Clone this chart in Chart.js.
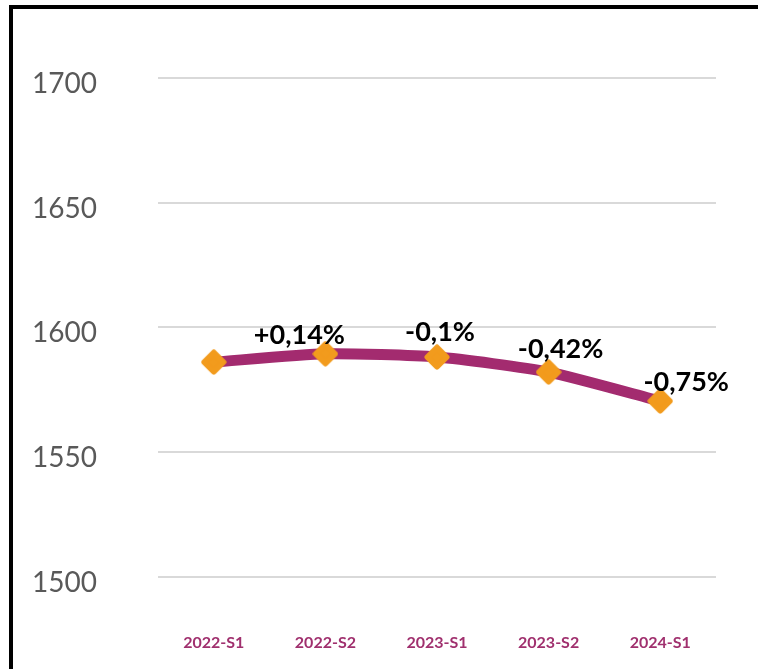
<!DOCTYPE html>
<html>
<head>
<meta charset="utf-8">
<script src="https://cdn.jsdelivr.net/npm/chart.js@4"></script>
<style>
  html, body { margin: 0; padding: 0; background: #fff; overflow: hidden; }
  #wrap { position: relative; width: 758px; height: 669px; }
  #frame {
    position: absolute; left: 9px; top: 5px; width: 800px; height: 700px;
    border-left: 4px solid #000; border-top: 4px solid #000;
  }
  canvas { position: absolute; left: 0; top: 0; }
</style>
</head>
<body>
<div id="wrap">
  <div id="frame"></div>
  <canvas id="chart" width="758" height="669"></canvas>
</div>
<script>
// --- Data ---
const categories = ['2022-S1', '2022-S2', '2023-S1', '2023-S2', '2024-S1'];
const values = [1586.1, 1589.4, 1588.1, 1582.1, 1570.5];
const changeLabels = ['', '+0,14%', '-0,1%', '-0,42%', '-0,75%'];
const yTicks = [1500, 1550, 1600, 1650, 1700];

const LINE_COLOR = '#A32B6F';
const MARKER_COLOR = '#F29B1D';

// rounded diamond marker
const makeMarker = () => {
  const c = document.createElement('canvas');
  c.width = 26; c.height = 26;
  const g = c.getContext('2d');
  g.fillStyle = MARKER_COLOR;
  g.strokeStyle = MARKER_COLOR;
  g.lineWidth = 6;
  g.lineJoin = 'round';
  g.beginPath();
  g.moveTo(13, 3.5); g.lineTo(22.5, 13); g.lineTo(13, 22.5); g.lineTo(3.5, 13);
  g.closePath();
  g.fill(); g.stroke();
  return c;
};

// labels next to points (offsets tuned by eye)
const labelOffsets = [[0, 0], [-26, -19], [3, -25], [12, -23], [26, -19]];
const changeLabelPlugin = {
  id: 'changeLabels',
  afterDatasetsDraw(chart) {
    const ctx = chart.ctx;
    const meta = chart.getDatasetMeta(0);
    ctx.save();
    ctx.font = 'bold 27px Lato, "Open Sans", sans-serif';
    ctx.fillStyle = '#000';
    ctx.textAlign = 'center';
    ctx.textBaseline = 'middle';
    meta.data.forEach((pt, i) => {
      if (!changeLabels[i]) return;
      const [dx, dy] = labelOffsets[i];
      ctx.fillText(changeLabels[i], pt.x + dx, pt.y + dy);
    });
    ctx.restore();
  }
};

new Chart(document.getElementById('chart'), {
  type: 'line',
  data: {
    labels: categories,
    datasets: [{
      data: values,
      borderColor: LINE_COLOR,
      borderWidth: 11,
      borderCapStyle: 'round',
      borderJoinStyle: 'round',
      tension: 0.2,
      pointStyle: makeMarker(),
      pointRadius: 11,
      pointHoverRadius: 11
    }]
  },
  options: {
    responsive: false,
    animation: false,
    events: [],
    layout: { padding: { left: 0, top: 73, right: 42, bottom: 0 } },
    plugins: { legend: { display: false }, tooltip: { enabled: false } },
    scales: {
      x: {
        offset: true,
        grid: { display: false, drawTicks: false },
        border: { display: false },
        ticks: {
          color: '#A0306E',
          font: { family: 'Lato, "Open Sans", sans-serif', size: 16, weight: 'bold' },
          padding: 56,
          maxRotation: 0
        },
        afterFit(axis) { axis.height = 92; }
      },
      y: {
        min: 1500,
        max: 1700,
        afterBuildTicks(axis) { axis.ticks = yTicks.map(v => ({ value: v })); },
        grid: { color: '#D9D9D9', lineWidth: 2, drawTicks: false },
        border: { display: false },
        ticks: {
          color: '#595959',
          font: { family: 'Lato, "Open Sans", sans-serif', size: 28 },
          padding: 61,
          labelOffset: 6,
          callback: v => String(v)
        },
        afterFit(axis) { axis.width = 158; }
      }
    }
  },
  plugins: [changeLabelPlugin]
});
</script>
</body>
</html>
